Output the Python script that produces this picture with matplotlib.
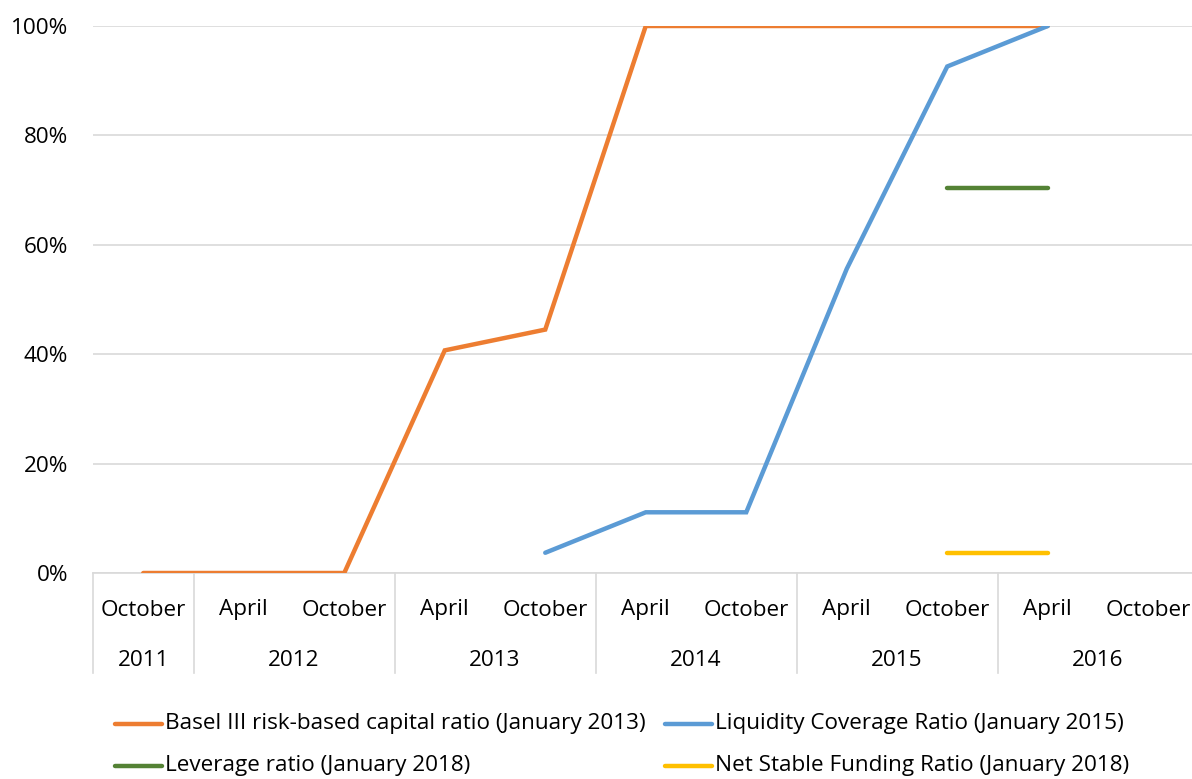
import matplotlib
matplotlib.use("Agg")
import matplotlib.pyplot as plt
from matplotlib.lines import Line2D
import numpy as np

months = ["October", "April", "October", "April", "October", "April", "October",
          "April", "October", "April", "October"]
years = ["2011", "2012", "2013", "2014", "2015", "2016"]
year_spans = [(0, 0), (1, 2), (3, 4), (5, 6), (7, 8), (9, 10)]

nan = np.nan
basel = [0, 0, 0, 40.7, 44.5, 100, 100, 100, 100, 100, nan]
lcr = [nan, nan, nan, nan, 3.7, 11.1, 11.1, 55.6, 92.6, 100, nan]
leverage = [nan, nan, nan, nan, nan, nan, nan, nan, 70.4, 70.4, nan]
nsfr = [nan, nan, nan, nan, nan, nan, nan, nan, 3.7, 3.7, nan]

labels = ["Basel III risk-based capital ratio (January 2013)",
          "Liquidity Coverage Ratio (January 2015)",
          "Leverage ratio (January 2018)",
          "Net Stable Funding Ratio (January 2018)"]
colors = ["#ED7D31", "#5B9BD5", "#548235", "#FFC000"]

plt.rcParams['font.family'] = ['Open Sans', 'DejaVu Sans']
FS = 16.2

W, H = 1192, 779
fig = plt.figure(figsize=(W / 100, H / 100), dpi=100)
ax = fig.add_axes([93 / W, 1 - 573 / H, 1105.5 / W, (573 - 26) / H])

x = np.arange(len(months))
for s, c in zip([basel, lcr, leverage, nsfr], colors):
    ax.plot(x, s, color=c, lw=3.2, solid_capstyle='round', solid_joinstyle='miter', zorder=3)

ax.set_xlim(-0.5, len(months) - 0.5)
ax.set_ylim(0, 100)
ax.set_yticks(np.arange(0, 101, 20))
ax.set_yticklabels([f"{v}%" for v in range(0, 101, 20)], fontsize=FS, color="#000000")
ax.tick_params(axis='y', length=0, pad=18)
ax.tick_params(axis='x', length=0, labelbottom=False)
ax.grid(axis='y', color="#D9D9D9", lw=1.2)
ax.set_axisbelow(True)
for sp in ['top', 'right', 'left']:
    ax.spines[sp].set_visible(False)
ax.spines['bottom'].set_color("#D9D9D9")
ax.spines['bottom'].set_linewidth(1.2)

trans = ax.get_xaxis_transform()
for i, m in enumerate(months):
    ax.text(i, -37 / 547, m, transform=trans, ha='center', va='center', fontsize=FS, clip_on=False)
for (a, b), yr in zip(year_spans, years):
    ax.text((a + b) / 2, -87 / 547, yr, transform=trans, ha='center', va='center', fontsize=FS, clip_on=False)
# separators
seps = [-0.5] + [b + 0.5 for (a, b) in year_spans[:-1]]
for sx in seps:
    ax.plot([sx, sx], [0, -100 / 547], transform=trans, color="#D9D9D9", lw=1.2, clip_on=False)

# legend
leg_pos = [(115, 724), (665, 724), (115, 766), (665, 766)]
for (lx, ly), lab, c in zip(leg_pos, labels, colors):
    fig.add_artist(Line2D([lx / W, (lx + 47) / W], [1 - ly / H, 1 - ly / H], color=c, lw=3.2,
                          solid_capstyle='round', transform=fig.transFigure))
    fig.text((lx + 50) / W, 1 - ly / H, lab, ha='left', va='center', fontsize=FS)

fig.savefig("out.png", dpi=100)
